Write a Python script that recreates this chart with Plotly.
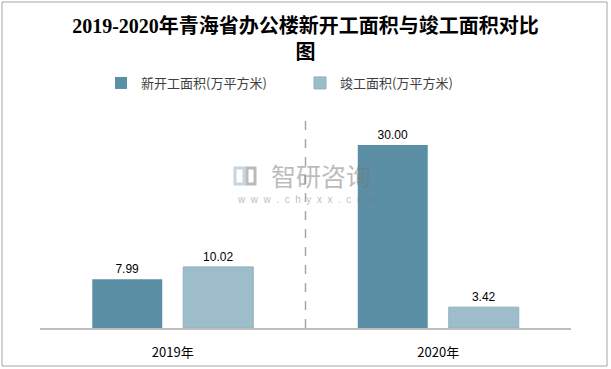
import plotly.graph_objects as go

categories = ["2019年", "2020年"]
series_names = ["新开工面积(万平方米)", "竣工面积(万平方米)"]
new_start = [7.99, 30.00]
completed = [10.02, 3.42]
title_text = "2019-2020年青海省办公楼新开工面积与竣工面积对比<br>图"

W, H = 611, 369
ml, mr, mt, mb = 40, 40, 100, 41
pw, ph = W - ml - mr, H - mt - mb
ymax = 37.38

def px_x(x):
    return (x - ml) / pw

def px_y(y):
    return (H - mb - y) / ph

fig = go.Figure()
fig.add_trace(go.Bar(
    name=series_names[0], x=categories, y=new_start,
    marker=dict(color="#5B8FA5", line=dict(width=0)),
    text=[f"{v:.2f}" for v in new_start], textposition="outside",
    textfont=dict(family="Liberation Sans, Arial", size=12, color="#000000"),
    cliponaxis=False,
))
fig.add_trace(go.Bar(
    name=series_names[1], x=categories, y=completed,
    marker=dict(color="#9DBDCA", line=dict(width=1, color="#8FB0BE")),
    text=[f"{v:.2f}" for v in completed], textposition="outside",
    textfont=dict(family="Liberation Sans, Arial", size=12, color="#000000"),
    cliponaxis=False,
))

wm = "rgba(120,120,120,0.5)"
shapes = [
    # category separator
    dict(type="line", xref="x", yref="y", x0=0.5, x1=0.5, y0=0, y1=34.9,
         line=dict(color="#A6A6A6", width=1.5, dash="dash")),
    # outer border
    dict(type="rect", xref="paper", yref="paper",
         x0=px_x(2), x1=px_x(607), y0=px_y(2), y1=px_y(366),
         line=dict(color="#A6A6A6", width=1), fillcolor="rgba(0,0,0,0)", layer="below"),
    # watermark logo pieces
    dict(type="rect", xref="paper", yref="paper",
         x0=px_x(235), x1=px_x(244), y0=px_y(168), y1=px_y(184),
         line=dict(color="rgba(150,170,200,0.5)", width=3), fillcolor="rgba(0,0,0,0)"),
    dict(type="rect", xref="paper", yref="paper",
         x0=px_x(247), x1=px_x(255), y0=px_y(168), y1=px_y(184),
         line=dict(color=wm, width=3), fillcolor="rgba(0,0,0,0)"),
]

annotations = [
    dict(text="智研咨询", xref="paper", yref="paper", x=px_x(321), y=px_y(175),
         xanchor="center", yanchor="middle",
         showarrow=False, font=dict(family="Noto Sans CJK SC", size=25, color=wm)),
    dict(text="w  w  w  .  c  h  y  x  x  .  c  o  m", xref="paper", yref="paper", x=px_x(306), y=px_y(199),
         xanchor="center", yanchor="middle",
         showarrow=False, font=dict(family="Liberation Sans", size=10, color=wm)),
]

fig.update_layout(
    width=W, height=H,
    margin=dict(l=ml, r=mr, t=mt, b=mb, autoexpand=False),
    paper_bgcolor="#FFFFFF", plot_bgcolor="#FFFFFF",
    title=dict(text=title_text, x=0.5, xanchor="center", y=1 - 33 / H, yanchor="middle",
               font=dict(family="Liberation Serif, Noto Sans CJK SC", size=20, color="#000000", weight="bold")),
    barmode="group", bargap=0.3145, bargroupgap=0.231,
    showlegend=True,
    legend=dict(orientation="h", x=px_x(300), xanchor="center", y=px_y(83), yanchor="middle",
                font=dict(family="Noto Sans CJK SC", size=13, color="#404040"),
                entrywidth=154, entrywidthmode="pixels", bgcolor="rgba(0,0,0,0)"),
    xaxis=dict(showgrid=False, showline=True, linecolor="#BFBFBF", linewidth=1.5,
               ticks="", ticklabelstandoff=12, automargin=False,
               tickfont=dict(family="Noto Sans CJK SC", size=13, color="#000000"),
               fixedrange=True),
    yaxis=dict(range=[0, ymax], visible=False, showgrid=False, zeroline=False, fixedrange=True,
               automargin=False),
    shapes=shapes,
    annotations=annotations,
)

fig.write_html("out.html", config={"displayModeBar": False},
               post_script="document.body.style.margin='0';document.body.style.overflow='hidden';")
